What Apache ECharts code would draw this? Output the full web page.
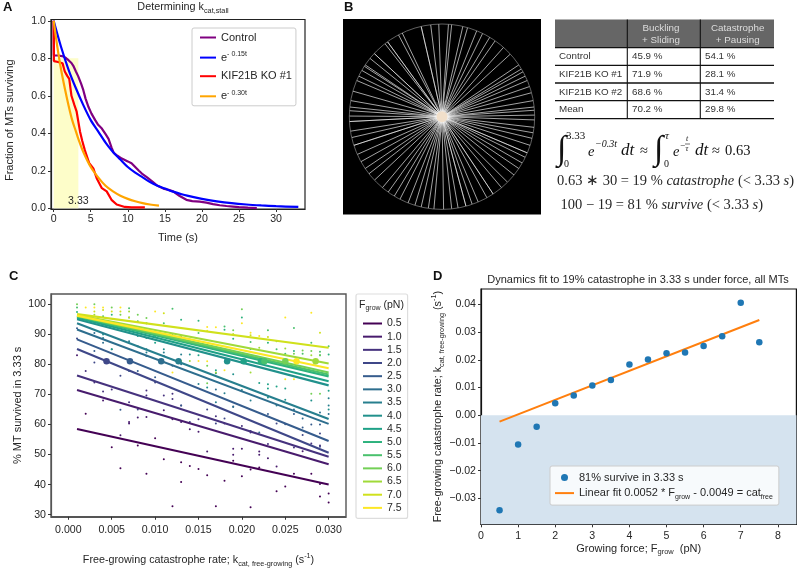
<!DOCTYPE html>
<html><head><meta charset="utf-8">
<style>html,body{margin:0;padding:0;background:#fff}#c{width:800px;height:568px}</style>
<script src="https://cdn.jsdelivr.net/npm/echarts@6/dist/echarts.min.js"></script>
</head><body><div id="c"></div>
<script>
// ---------- Panel A data ----------
const controlCurve=[[0,1],[0.03,0.815],[0.6,0.815],[1.3,0.81],[1.7,0.8],[2,0.79],[2.4,0.775],[2.65,0.76],[3,0.73],[3.3,0.705],[3.7,0.665],[4,0.63],[4.3,0.585],[4.7,0.54],[5.1,0.505],[5.6,0.47],[6,0.445],[6.5,0.425],[7,0.395],[7.4,0.37],[7.8,0.325],[8.1,0.295],[8.6,0.28],[9.2,0.265],[10,0.25],[10.5,0.24],[11,0.22],[11.5,0.2],[11.9,0.185],[12.6,0.165],[13.4,0.14],[14,0.12],[14.8,0.105],[15.5,0.098],[16.1,0.09],[17,0.065],[17.9,0.045],[18.7,0.038],[19.7,0.035],[20.6,0.03],[21.5,0.022],[22.4,0.016],[23.3,0.012],[24.2,0.009],[25,0.006],[26.2,0.003],[27.4,0.001]];
const expSlowCurve=[[0,1],[1,0.86],[2,0.74],[3,0.64],[4,0.55],[5,0.47],[6,0.41],[7,0.35],[8,0.3],[9,0.26],[10,0.22],[11,0.19],[12,0.165],[13,0.14],[14,0.12],[15,0.105],[16,0.09],[17,0.078],[18,0.067],[20,0.05],[22,0.037],[24,0.027],[26,0.02],[28,0.015],[30,0.011],[33,0.007]];
const koCurve=[[0,1],[0.03,0.785],[0.6,0.78],[1.2,0.773],[1.5,0.73],[1.85,0.705],[2.1,0.69],[2.4,0.6],[2.8,0.55],[3.1,0.515],[3.55,0.41],[3.85,0.36],[4.2,0.31],[4.8,0.24],[5.35,0.213],[5.8,0.16],[6.5,0.107],[7.15,0.09],[7.8,0.045],[8.5,0.02],[9.6,0.007],[10.5,0.005],[12.3,0.005]];
const expFastCurve=[[0,1],[0.5,0.86],[1,0.74],[1.5,0.64],[2,0.55],[2.5,0.47],[3,0.41],[3.33,0.37],[4,0.3],[5,0.22],[6,0.165],[7,0.12],[8,0.09],[9,0.067],[10,0.05],[11,0.037],[12,0.027],[13,0.02],[14.2,0.014]];
const stallWindow=[0,3.33];
const aTicksX=[0,5,10,15,20,25,30], aTicksY=[0,0.2,0.4,0.6,0.8,1.0];

// ---------- Panel B data ----------
const spokeAngles=[4,6,-2,-7,-13,-25.4,-28,-36,-38,-47,-51,-56,13,16,22,26,31,35,41.6,47.5,56,59,61,64,67,71,75,80,84,86,89,92,96.6,100,103.5,108,113,116,120,124,129,135,140,146.5,151,157,161,165,170,174,179,185,188.5,193,197,201.5,207,211,215.5,220,226.8,232,236,241,246,252,257,261,267,270.4,273.7,276,280,286,293,296,300,303];
const brightSpokes=[-13,-47,113,146.5,165,252,267,-36];
const hazeAngles=[10,33,50,77,95,110,127,143,155,168,182,199,214,229,244,259,272,284,298,312,325,340,352];
const tableHead=["","Buckling\n+ Sliding","Catastrophe\n+ Pausing"];
const tableRows=[["Control","45.9 %","54.1 %"],["KIF21B KO #1","71.9 %","28.1 %"],["KIF21B KO #2","68.6 %","31.4 %"],["Mean","70.2 %","29.8 %"]];

// ---------- Panel C data ----------
const forces=["0.5","1.0","1.5","2.0","2.5","3.0","3.5","4.0","4.5","5.0","5.5","6.0","6.5","7.0","7.5"];
const viridis15=["#440154","#481b6d","#46327e","#3f4788","#365c8d","#2e6e8e","#277f8e","#21918c","#1fa187","#2db27d","#4ac16d","#73d056","#a0da39","#d0e11c","#fde725"];
const fitRates=[0.001,0.03];
const fitStart=[58.5,71.5,76.3,85.1,88.3,91.6,93.7,95,95.5,95.8,96,96.2,96.4,96.7,96.2];
const fitEnd=[40,46.8,49.3,50.6,54.5,60.2,61.8,73,74.4,76,76.6,77.3,80.3,85.5,78.7];
const survivors=[
 [[2,63.6],[5,52.4],[6,45.4],[8,53],[9,43.6],[10,55.4],[11,48.4],[12,32.8],[13,47.4],[13,40.9],[14,46.2],[15,45.2],[16,43.1],[17,32.8],[18,41.3],[19,47.9],[20,42.8],[21,45],[21,32.5],[22,45.7],[24,37.8],[25,39.4],[26,43.6],[28,43.6],[29,36],[29,40.2],[30,37],[30,34]],
 [[1,83],[4,68],[6,56.4],[7,60.8],[7,60.3],[8,62.3],[9,62.5],[11,64.7],[12,61.7],[13,60.8],[14,58.4],[15,57.6],[16,51],[19,51.9],[19,49.9],[20,51.9],[22,51],[22,49.9],[23,48.8],[24,46],[27,51.1]],
 [[2,77.8],[3,74],[4,71],[5,71.6],[7,67.4],[9,71.3],[9,69.6],[11,69.6],[12,70.2],[12,68.5],[13,66.3],[15,61.7],[17,62.7],[18,60.3],[20,59.5],[21,57.3],[23,53.5],[26,52.3],[28,53.7],[29,53]],
 [[1,88.6],[3,80.6],[6,76.2],[8,65],[10,74],[14,60.8],[16,65],[17,60.3],[18,62],[21,57.8],[24,60.3],[29,57],[29,52.6],[27,56.5]],
 [[1,92],[3,84.4],[6,64.9],[7,77.8],[8,77.8],[10,75.7],[12,79.5],[13,66.3],[19,66],[23,63.5],[25,60.1],[26,63.5],[27,59],[28,60],[29,60]],
 [[3,90.4],[4,87.2],[5,85],[8,86],[9,82.8],[11,82.8],[13,80],[17,71.6],[19,65.8],[22,57.3],[26,65],[27,62],[29,64],[30,63.5]],
 [[4,88.8],[7,87.7],[9,83.9],[11,83.9],[13,83.3],[15,73.5],[17,67.4],[18,70.4],[21,68],[24,66.3],[30,68.7],[30,66.3]],
 [[3,94.8],[4,89.9],[8,89.4],[9,85],[11,85],[14,83.3],[16,72.3],[17,77],[19,76.7],[20,71.5],[23,69],[25,68.2],[28,68],[30,65]],
 [[5,85],[7,95.6],[9,88.8],[10,87.2],[12,90.1],[13,89.4],[15,83],[17,78],[22,73.8],[23,73.4],[23,72],[24,72.6],[25,72],[30,71.2]],
 [[1,97.4],[5,96.5],[9,93.7],[10,89.4],[11,89.9],[13,94.8],[15,94.5],[18,91.5],[19,88.5],[20,95.6],[21,85.1],[23,87.2],[26,84.4],[29,83],[30,83.3]],
 [[1,98.9],[4,96],[7,98.7],[8,94.3],[11,93.7],[12,98.5],[14,88.3],[15,90.4],[18,92.6],[19,89.9],[21,87.4],[23,91.3],[24,85],[25,83.5],[26,92.1],[27,83.5],[28,87.2],[29,84.2],[30,86]],
 [[1,100],[3,100],[5,98.9],[6,96.5],[8,96.5],[9,95.4],[16,79.5],[19,91.3],[20,98.3],[24,87.7],[26,83.5],[27,84.6],[28,84.4],[29,83],[16,73.7],[28,70.2],[29,70.2]],
 [[3,96.5],[7,97.6],[9,93.7],[13,81.1],[14,81.1],[17,77.3],[22,85.5],[25,85.3],[28,83],[21,77.3]],
 [[3,97.6],[4,98.1],[5,97.6],[6,97.6],[7,95.6],[11,97],[19,90],[21,89.7],[23,89.1],[29,90.5]],
 [[2,98.9],[3,98.9],[4,98.9],[6,98.9],[10,97.6],[12,77.3],[15,81.1],[16,92.4],[16,91.2],[16,81],[17,92.3],[18,78],[20,93.7],[21,90.5],[22,89.4],[25,95.6],[25,75],[26,75],[28,97.2]]
];
const bigDotRates=[null,null,null,0.0044,0.0071,0.0107,0.0127,0.0183,0.0202,0.0222,0.0226,0.025,0.0285,null,0.0263];
const bigDotSurvival=81;
const cTicksX=[0,0.005,0.01,0.015,0.02,0.025,0.03], cTicksY=[30,40,50,60,70,80,90,100];

// ---------- Panel D data ----------
const growForce=[0.5,1,1.5,2,2.5,3,3.5,4,4.5,5,5.5,6,6.5,7,7.5];
const catRate=[-0.0342,-0.0105,-0.0041,0.0043,0.0071,0.0107,0.0127,0.0183,0.0201,0.0223,0.0226,0.025,0.0285,0.0405,0.0263];
const fitLine=[[0.5,-0.0023],[7.5,0.0343]];
const dTicksX=[0,1,2,3,4,5,6,7,8], dTicksY=[-0.03,-0.02,-0.01,0,0.01,0.02,0.03,0.04];

// ---------- helpers ----------
const SANS='"Liberation Sans",Arial,sans-serif', SERIF='"Liberation Serif",serif';
const INK='#262626';
const richSub=(fs)=>({
  t:{fontFamily:SANS,fontSize:fs,color:INK,fontWeight:'normal',lineHeight:fs+3.5},
  s:{fontFamily:SANS,fontSize:fs-3.5,color:INK,fontWeight:'normal',verticalAlign:'bottom',lineHeight:fs-3},
  u:{fontFamily:SANS,fontSize:fs-3.5,color:INK,fontWeight:'normal',verticalAlign:'top',lineHeight:fs-3}
});
function axisCommon(ticks,fmt,lineColor,margin,extra){
  return Object.assign({type:'value',scale:false,axisLine:{show:true,onZero:false,lineStyle:{color:lineColor,width:1.2}},
    axisTick:{show:true,length:3,lineStyle:{color:'#333',width:1},customValues:ticks},
    axisLabel:{color:INK,fontFamily:SANS,fontSize:10.6,margin:margin,customValues:ticks,formatter:fmt,showMinLabel:true,showMaxLabel:true,hideOverlap:false},
    splitLine:{show:false},nameLocation:'middle',silent:true},extra);
}
function nameStyle(fs,pad){return {fontFamily:SANS,fontSize:fs,color:INK,rich:richSub(fs),padding:pad||0};}

const series=[];
const lineS=(name,data,color,gi,w,extra)=>Object.assign({type:'line',name,data,xAxisIndex:gi,yAxisIndex:gi,showSymbol:false,symbol:'none',lineStyle:{color,width:w},itemStyle:{color},silent:true},extra||{});

// A
series.push(lineS('Control',controlCurve,'#800080',0,2.2));
series.push(lineS('expSlow',expSlowCurve,'#0000ff',0,2.2,{smooth:0.3}));
series.push(lineS('KIF21B KO #1',koCurve,'#ff0000',0,2.2));
series.push(lineS('expFast',expFastCurve,'#ffa500',0,2.2,{smooth:0.3,
  markArea:{silent:true,z:0,itemStyle:{color:'#fdfdc9'},data:[[{coord:[stallWindow[0],0]},{coord:[stallWindow[1],0.8]}]]},
  markPoint:{silent:true,symbol:'circle',symbolSize:0,data:[{coord:[stallWindow[1],0.04],label:{show:true,formatter:'3.33',position:'inside',color:INK,fontFamily:SANS,fontSize:10.6}}]}}));

// B
const spokeData=[];spokeAngles.forEach(a=>{spokeData.push([0.03,(a+360)%360],[1,(a+360)%360],['-','-']);});
const brightData=[];brightSpokes.forEach(a=>{brightData.push([0.03,(a+360)%360],[1,(a+360)%360],['-','-']);});
const hazeData=[];hazeAngles.forEach(a=>{hazeData.push([0.02,a],[0.17,a],['-','-']);});
const polarS=(name,data,op,w)=>({type:'line',name,coordinateSystem:'polar',data,symbol:'none',showSymbol:false,silent:true,lineStyle:{color:'#ffffff',width:w,opacity:op},connectNulls:false});
series.push(polarS('haze',hazeData,0.45,0.6));
series.push(polarS('spokes',spokeData,0.8,0.8));
series.push(polarS('bright',brightData,0.6,0.8));
series.push({type:'scatter',name:'hub',coordinateSystem:'polar',data:[[0,0]],symbolSize:11,itemStyle:{color:'#f1dfca',opacity:1,shadowBlur:4,shadowColor:'#fff'},silent:true,z:5});

// C
const fitColorLines=forces.map((f,i)=>lineS(f,[[fitRates[0],fitStart[i]],[fitRates[1],fitEnd[i]]],viridis15[i],1,2.1));
survivors.forEach((pts,i)=>series.push({type:'scatter',name:'pts'+forces[i],xAxisIndex:1,yAxisIndex:1,data:pts.map(p=>[p[0]/1000,p[1]]),symbolSize:2,itemStyle:{color:viridis15[i],opacity:1},silent:true,z:2}));
fitColorLines.forEach(s=>series.push(s));
series.push({type:'scatter',name:'fit81',xAxisIndex:1,yAxisIndex:1,symbolSize:6.5,silent:true,z:4,
  data:bigDotRates.map((r,i)=>r===null?null:{value:[r,bigDotSurvival],itemStyle:{color:viridis15[i],opacity:1}}).filter(Boolean)});

// D
series.push({type:'scatter',name:'81% survive in 3.33 s',xAxisIndex:2,yAxisIndex:2,data:growForce.map((f,i)=>[f,catRate[i]]),symbolSize:6.5,itemStyle:{color:'#1f77b4',opacity:1},silent:true,z:3,
  markArea:{silent:true,itemStyle:{color:'#d5e3ef'},data:[[{coord:[0,-0.0393]},{coord:[8.5,0]}]]}});
series.push(lineS('Linear fit',fitLine,'#ff7f0e',2,2.1));

// Graphics: panel letters, table, equations
const g=[];
const txt=(x,y,text,style)=>g.push({type:'text',x,y,z:50,silent:true,style:Object.assign({text,fill:INK,font:'10px '+SANS,textAlign:'left',textVerticalAlign:'middle'},style||{})});
[['A',3,7.5],['B',344,7.5],['C',9,276.5],['D',433,276]].forEach(l=>txt(l[1],l[2],l[0],{font:'bold 13px '+SANS,fill:'#111'}));
g.push({type:'rect',z:-5,silent:true,shape:{x:343,y:19,width:198,height:195.5},style:{fill:'#000'}});
g.push({type:'rect',z:1,silent:true,shape:{x:555,y:19.5,width:219,height:28},style:{fill:'#666'}});
const colX=[555,627.3,700.3,774], rowY=[47.7,65.3,83,100.7,118.7];
rowY.forEach(y=>g.push({type:'line',z:2,silent:true,shape:{x1:555,y1:y,x2:774,y2:y},style:{stroke:'#111',lineWidth:1.3}}));
[colX[1],colX[2]].forEach(x=>g.push({type:'line',z:2,silent:true,shape:{x1:x,y1:19.5,x2:x,y2:118.7},style:{stroke:'#111',lineWidth:1.1}}));
[[661,1],[737.7,2]].forEach(h=>{const [a,b]=tableHead[h[1]].split('\n');
  txt(h[0],28,a,{fill:'#ddd',textAlign:'center',font:'9.8px '+SANS});txt(h[0],40,b,{fill:'#ddd',textAlign:'center',font:'9.8px '+SANS});});
tableRows.forEach((r,i)=>{const y=(rowY[i]+rowY[i+1])/2;
  txt(559,y,r[0],{font:'9.8px '+SANS,fill:'#333'});txt(632,y,r[1],{font:'9.8px '+SANS,fill:'#333'});txt(705,y,r[2],{font:'9.8px '+SANS,fill:'#333'});});
const M='14.5px '+SERIF, MI='italic 14.5px '+SERIF, DT='italic 17px '+SERIF;
txt(557,150,'∫',{font:'34px '+SERIF,fill:'#111'});
txt(566,136,'3.33',{font:'11px '+SERIF,fill:'#111'});
txt(564,164.5,'0',{font:'10px '+SERIF,fill:'#111'});
txt(588,152,'e',{font:MI,fill:'#111'});
txt(595,144,'−0.3t',{font:'italic 10px '+SERIF,fill:'#111'});
txt(621,151,'dt',{font:DT,fill:'#111'});
txt(640,151,'≈',{font:M,fill:'#111'});
txt(654,150,'∫',{font:'34px '+SERIF,fill:'#111'});
txt(665,136,'τ',{font:'italic 11px '+SERIF,fill:'#111'});
txt(664,164.5,'0',{font:'10px '+SERIF,fill:'#111'});
txt(673,152,'e',{font:MI,fill:'#111'});
txt(680,146,'−',{font:'9px '+SERIF,fill:'#111'});
txt(686,139,'t',{font:'italic 8px '+SERIF,fill:'#111'});
txt(685.5,149,'τ',{font:'italic 8px '+SERIF,fill:'#111'});
g.push({type:'line',z:50,silent:true,shape:{x1:685,y1:144,x2:690,y2:144},style:{stroke:'#111',lineWidth:0.6}});
txt(695,151,'dt',{font:DT,fill:'#111'});
txt(712,151,'≈',{font:M,fill:'#111'});
txt(725,151,'0.63',{font:M,fill:'#111'});
const mathRich={r:{fontFamily:SERIF,fontSize:14.5,color:'#111'},i:{fontFamily:SERIF,fontStyle:'italic',fontSize:14.5,color:'#111'}};
txt(557,181,'{r|0.63 ∗ 30 = 19 % }{i|catastrophe}{r| (< 3.33 }{i|s}{r|)}',{rich:mathRich,font:M});
txt(560.5,205.5,'{r|100 − 19 = 81 % }{i|survive}{r| (< 3.33 }{i|s}{r|)}',{rich:mathRich,font:M});
txt(359,305,'{t|F}{s|grow}{t| (pN)}',{rich:richSub(10.5),font:'10.5px '+SANS});

const commonLegendText={color:INK,fontFamily:SANS,fontSize:11};
const legendRich={a:{fontFamily:SANS,fontSize:11,color:INK,lineHeight:14},s:{fontFamily:SANS,fontSize:7,color:INK,verticalAlign:'bottom',lineHeight:8},sup:{fontFamily:SANS,fontSize:7,color:INK,verticalAlign:'top',lineHeight:8}};
const option={
  animation:false,backgroundColor:'#fff',
  title:[
    {text:'{t|Determining k}{s|cat,stall}',left:183,top:0,textAlign:'center',padding:0,textStyle:{rich:richSub(10.8),fontSize:10.8,fontWeight:'normal'}},
    {text:'Dynamics fit to 19% catastrophe in 3.33 s under force, all MTs',left:638,top:273,padding:0,textAlign:'center',textStyle:{fontFamily:SANS,fontSize:11,lineHeight:13,fontWeight:'normal',color:INK}}
  ],
  grid:[
    {left:51,top:19.5,width:254,height:189.5,show:true,borderColor:'#222',borderWidth:1.2,backgroundColor:'transparent'},
    {left:51,top:294,width:295,height:225.5,show:true,borderColor:'#555',borderWidth:1.4,backgroundColor:'transparent'},
    {left:481,top:289,width:315.4,height:235.3,show:true,borderColor:'#111',borderWidth:1.2,backgroundColor:'transparent'}
  ],
  xAxis:[
    axisCommon(aTicksX,v=>String(v),'#222',5,{gridIndex:0,min:-0.36,max:33.9,name:'Time (s)',nameGap:23,nameTextStyle:nameStyle(11)}),
    axisCommon(cTicksX,v=>v.toFixed(3),'#555',8,{gridIndex:1,min:-0.002,max:0.032,name:'{t|Free-growing catastrophe rate; k}{s|cat, free-growing}{t| (s}{u|-1}{t|)}',nameGap:36,nameTextStyle:nameStyle(10.75)}),
    axisCommon(dTicksX,v=>String(v),'#111',6,{gridIndex:2,min:0,max:8.5,name:'{t|Growing force; F}{s|grow}{t|  (pN)}',nameGap:17,nameTextStyle:nameStyle(11)})
  ],
  yAxis:[
    axisCommon(aTicksY,v=>v.toFixed(1),'#222',5,{gridIndex:0,min:-0.004,max:1.007,name:'Fraction of MTs surviving',nameGap:36,nameTextStyle:nameStyle(11,[0,0,0,-12])}),
    axisCommon(cTicksY,v=>String(v),'#555',5,{gridIndex:1,min:29.3,max:103.4,name:'% MT survived in 3.33 s',nameGap:28,nameTextStyle:nameStyle(11)}),
    axisCommon(dTicksY,v=>v.toFixed(2).replace('-','−'),'#111',5,{gridIndex:2,min:-0.0393,max:0.0455,name:'{t|Free-growing catastrophe rate; k}{s|cat, free-growing}{t| (s}{u|-1}{t|)}',nameGap:36,nameTextStyle:nameStyle(10.75)})
  ],
  polar:{center:[442,116.7],radius:92.7},
  radiusAxis:{min:0,max:1,axisLine:{show:false},axisTick:{show:false},axisLabel:{show:false},splitLine:{show:false}},
  angleAxis:{type:'value',min:0,max:360,startAngle:90,clockwise:true,axisLine:{show:true,lineStyle:{color:'#8a8a8a',width:0.7}},axisTick:{show:false},axisLabel:{show:false},splitLine:{show:false}},
  legend:[
    {show:true,data:['Control','expSlow','KIF21B KO #1','expFast'],orient:'vertical',left:192,top:28,padding:[4,4,4,7],itemWidth:16,itemHeight:13,itemGap:7.6,
     itemStyle:{opacity:0},
     backgroundColor:'rgba(255,255,255,0.9)',borderColor:'#ccc',borderWidth:1,borderRadius:2,selectedMode:false,
     formatter:n=>n==='expSlow'?'{a|e}{sup|- 0.15t}':n==='expFast'?'{a|e}{sup|- 0.30t}':'{a|'+n+'}',
     textStyle:{...commonLegendText,rich:legendRich}},
    {show:true,data:forces,orient:'vertical',left:356,top:294,padding:[24,6,5,6],itemWidth:19,itemHeight:11,itemGap:2.17,
     itemStyle:{opacity:0},
     backgroundColor:'rgba(255,255,255,0.9)',borderColor:'#ddd',borderWidth:1.2,borderRadius:2,selectedMode:false,
     textStyle:{...commonLegendText,fontSize:10.5,lineHeight:11}},
    {show:true,data:[{name:'81% survive in 3.33 s',itemStyle:{opacity:1}},{name:'Linear fit',itemStyle:{opacity:0}}],orient:'vertical',left:550,top:466,padding:[6,6,5,4],itemWidth:19,itemHeight:7,itemGap:4.6,
     backgroundColor:'rgba(255,255,255,0.8)',borderColor:'#ccc',borderWidth:1,borderRadius:2,selectedMode:false,
     formatter:n=>n==='Linear fit'?'{a|Linear fit 0.0052 * F}{s|grow}{a| - 0.0049 = cat}{s|free}':'{a|'+n+'}',
     textStyle:{...commonLegendText,rich:legendRich}}
  ],
  graphic:{elements:g},
  series
};
const chart=echarts.init(document.getElementById('c'),null,{renderer:'canvas'});
chart.setOption(option);
</script></body></html>
